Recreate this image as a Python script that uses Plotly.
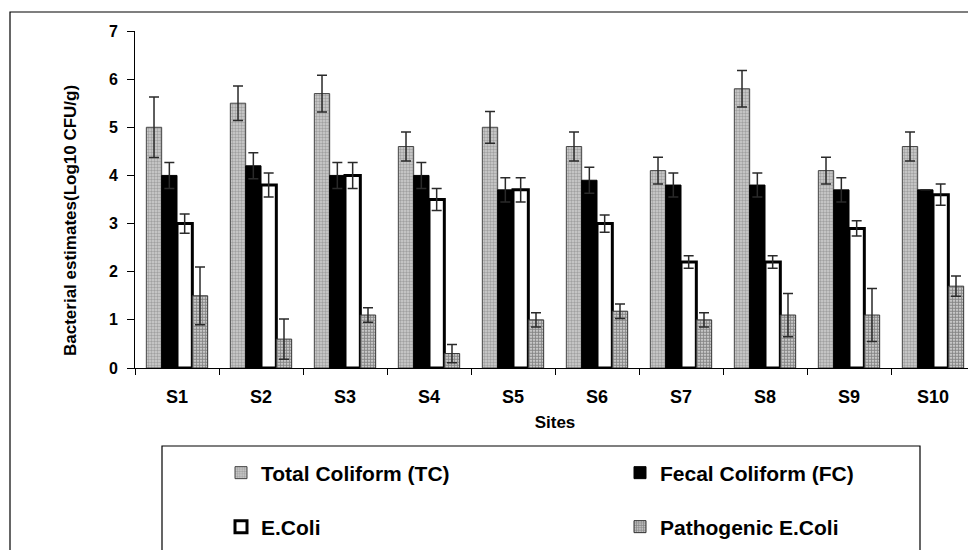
import plotly.graph_objects as go

sites = ["S1", "S2", "S3", "S4", "S5", "S6", "S7", "S8", "S9", "S10"]
tc = [5.0, 5.5, 5.7, 4.6, 5.0, 4.6, 4.1, 5.8, 4.1, 4.6]
tc_err = [0.63, 0.36, 0.38, 0.30, 0.33, 0.30, 0.28, 0.38, 0.28, 0.30]
fc = [4.0, 4.2, 4.0, 4.0, 3.7, 3.9, 3.8, 3.8, 3.7, 3.7]
fc_err = [0.27, 0.27, 0.27, 0.27, 0.25, 0.27, 0.25, 0.25, 0.25, 0.0]
ec = [3.0, 3.8, 4.0, 3.5, 3.7, 3.0, 2.2, 2.2, 2.9, 3.6]
ec_err = [0.20, 0.25, 0.27, 0.23, 0.25, 0.18, 0.13, 0.13, 0.16, 0.22]
pec = [1.5, 0.6, 1.1, 0.3, 1.0, 1.18, 1.0, 1.1, 1.1, 1.7]
pec_err = [0.60, 0.42, 0.15, 0.19, 0.15, 0.15, 0.15, 0.45, 0.55, 0.21]

names = ["Total Coliform (TC)", "Fecal Coliform (FC)", "E.Coli", "Pathogenic E.Coli"]
y_title = "Bacterial estimates(Log10 CFU/g)"
x_title = "Sites"

FONT = "Liberation Sans, Arial, sans-serif"
W, H = 976, 550
OFF = 8  # page body margin
L, T = 135 - OFF, 31 - OFF
R = W - (975 - OFF)
B = H - (368 - OFF)
PW, PH = W - L - R, H - T - B


def sx(px):  # screen px -> paper x
    return (px - OFF - L) / PW


def sy(py):  # screen px -> paper y
    return 1 - (py - OFF - T) / PH


def err(vals):
    return dict(type="data", array=vals, visible=True, color="#2a2a2a",
                thickness=1.5, width=5)


fig = go.Figure()
fig.add_trace(go.Bar(
    x=sites, y=tc, name=names[0], error_y=err(tc_err), legend="legend",
    marker=dict(color="#9a9a9a", line=dict(color="#444444", width=1),
                pattern=dict(shape=".", bgcolor="#d0d0d0", fgcolor="#707070",
                             size=3, solidity=0.5))))
fig.add_trace(go.Bar(
    x=sites, y=fc, name=names[1], error_y=err(fc_err), legend="legend2",
    marker=dict(color="#000000", line=dict(color="#000000", width=1))))
fig.add_trace(go.Bar(
    x=sites, y=ec, name=names[2], error_y=err(ec_err), legend="legend3",
    marker=dict(color="#ffffff", line=dict(color="#000000", width=3))))
fig.add_trace(go.Bar(
    x=sites, y=pec, name=names[3], error_y=err(pec_err), legend="legend4",
    marker=dict(color="#666666", line=dict(color="#333333", width=1),
                pattern=dict(shape=".", bgcolor="#f0f0f0", fgcolor="#1e1e1e",
                             size=3, solidity=0.7))))


def leg(sym_x, row_y):
    return dict(orientation="h", xref="container", yref="container",
                x=(sym_x - OFF - 14) / W, y=1 - (row_y - OFF) / H,
                xanchor="left", yanchor="middle",
                bgcolor="rgba(0,0,0,0)", borderwidth=0,
                font=dict(family=FONT, size=21, color="#000000", weight="bold"),
                itemclick=False, itemdoubleclick=False)


fig.update_layout(
    width=W, height=H,
    margin=dict(l=L, r=R, t=T, b=B, autoexpand=False),
    paper_bgcolor="white", plot_bgcolor="white",
    barmode="group", bargap=0.27, bargroupgap=0,
    font=dict(family=FONT, color="#000000"),
    showlegend=True,
    legend=leg(235, 473),
    legend2=leg(634, 473),
    legend3=leg(235, 527),
    legend4=leg(634, 527),
    xaxis=dict(
        showline=True, linecolor="#000000", linewidth=1,
        ticks="outside", tickson="boundaries", ticklen=6, tickcolor="#000000",
        ticklabelstandoff=12,
        tickfont=dict(family=FONT, size=18, weight="bold"),
        title=dict(text=x_title, font=dict(family=FONT, size=17, weight="bold"),
                   standoff=10),
        showgrid=False, zeroline=False),
    yaxis=dict(
        range=[0, 7], dtick=1, showline=True, linecolor="#000000", linewidth=1,
        ticks="outside", ticklen=7, tickcolor="#000000",
        ticklabelstandoff=6,
        tickfont=dict(family=FONT, size=16, weight="bold"),
        showgrid=False, zeroline=False),
    annotations=[dict(
        text=y_title, textangle=-90, xref="paper", yref="paper",
        x=sx(70), y=sy(221), xanchor="center", yanchor="middle",
        showarrow=False, font=dict(family=FONT, size=17, weight="bold"))],
    shapes=[
        dict(type="rect", xref="paper", yref="paper",
             x0=sx(10), x1=sx(1010), y0=sy(620), y1=sy(12),
             line=dict(color="#000000", width=1.2), fillcolor="rgba(0,0,0,0)",
             layer="below"),
        dict(type="rect", xref="paper", yref="paper",
             x0=sx(162), x1=sx(920), y0=sy(620), y1=sy(446),
             line=dict(color="#000000", width=1.2), fillcolor="rgba(0,0,0,0)",
             layer="below"),
    ],
)

fig.write_html("out.html")
